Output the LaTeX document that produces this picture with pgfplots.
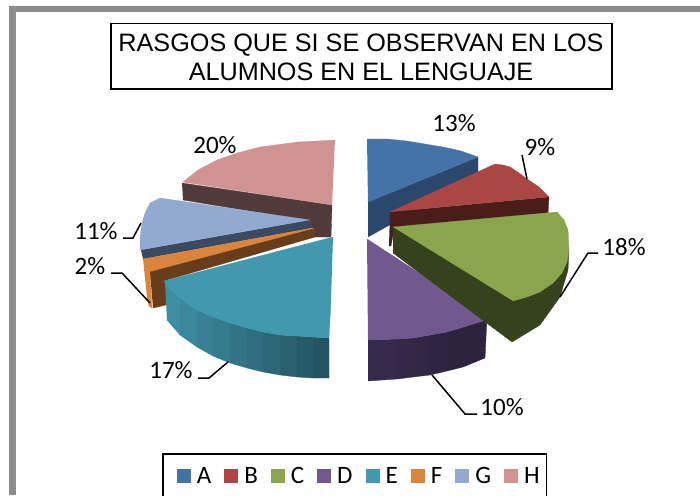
\documentclass[border=0pt]{standalone}
\usepackage{pgfplots}
\pgfplotsset{compat=1.18}
\usepackage{fontspec}
\setmainfont{Carlito}
\newfontfamily\titlefont{Liberation Sans}
\definecolor{cA}{HTML}{4572A7}
\definecolor{cB}{HTML}{AA4643}
\definecolor{cC}{HTML}{89A54E}
\definecolor{cD}{HTML}{71588F}
\definecolor{cE}{HTML}{4198AF}
\definecolor{cF}{HTML}{DB843D}
\definecolor{cG}{HTML}{93A9CF}
\definecolor{cH}{HTML}{D19392}
\definecolor{sA}{RGB}{42,72,108}
\definecolor{sB}{RGB}{74,28,26}
\definecolor{sC}{RGB}{54,66,30}
\definecolor{sDa}{RGB}{54,42,76}
\definecolor{sDb}{RGB}{45,35,62}
\definecolor{sEa}{RGB}{62,142,163}
\definecolor{sEb}{RGB}{35,84,97}
\definecolor{sF}{RGB}{104,62,26}
\definecolor{sG}{RGB}{58,74,96}
\definecolor{sH}{RGB}{82,57,58}
\pgfplotsset{
  face/.style={fill=#1, draw=#1, line width=0.3pt, forget plot},
  lead/.style={black, line width=1.5pt, forget plot},
  swatch/.style={legend image code/.code={\path[draw=none, fill=none] (0pt,-7pt) rectangle (27pt,7pt); \fill[#1, draw=none] (9pt,-7pt) rectangle (23pt,7pt);}},
}
\begin{document}
\begin{tikzpicture}
\useasboundingbox (0,0) rectangle (700pt,495pt);
\begin{axis}[
  at={(0,0)}, anchor=south west,
  scale only axis, width=700pt, height=495pt,
  xmin=0, xmax=700, ymin=0, ymax=495, y dir=reverse,
  hide axis,
  legend columns=8,
  legend style={at={(axis cs:162,453)}, anchor=north west, draw=black, line width=1.6pt,
    font=\fontsize{25}{29}\selectfont, inner xsep=5pt, inner ysep=12pt,
    nodes={text height=16pt, text depth=0pt},
    /tikz/every even column/.append style={column sep=2pt}},
]
% gray frame
\addplot[face={black!45}] coordinates {(9.5,495) (9.5,6) (700,6) (700,11.5) (15,11.5) (15,495)};

% A
\addplot[face=sA] coordinates {(368,202) (478,157) (478,176) (368,237)};
\addplot[face=cA] coordinates {(367,139) (387,139) (407,141) (425,144) (443,147) (461,151) (478,157) (368,202)};
% B
\addplot[face=sB] coordinates {(390,212) (549,197) (548,213) (394,229) (391,246) (389,246)};
\addplot[face=cB] coordinates {(390,212) (495,164) (503,165) (510,167) (519,173) (527,179) (539,187) (549,197)};
% H
\addplot[face=sH] coordinates {(182,183) (332,205) (331,237) (315,237) (310,221) (183,200)};
\addplot[face=cH] coordinates {(335,140) (298,142) (260,147) (237,153) (217,160) (198,170) (183,182) (332,205)};
% G
\addplot[face=sG] coordinates {(141,250) (310,220) (312,228) (143,259)};
\addplot[face=cG] coordinates {(310,220) (160,198) (150,203) (145,213) (142,223) (140,238) (140,250)};
% F
\addplot[face=cF] coordinates {(143,259) (313,228) (314,233) (150,272) (152,308) (149,306) (147,297)};
\addplot[face=sF] coordinates {(150,272) (313,229) (315,237) (167,280) (166,305) (153,308)};
% D
\addplot[face={sDa}] coordinates {(368,340) (397,339) (397,379) (368,381)};
\addplot[face={sDa!75!sDb}] coordinates {(397,339) (413,338) (413,377) (397,379)};
\addplot[face={sDa!50!sDb}] coordinates {(413,338) (430,335) (430,375) (413,377)};
\addplot[face={sDa!25!sDb}] coordinates {(430,335) (447,332) (447,371) (430,375)};
\addplot[face={sDb}] coordinates {(447,332) (470,325) (487,317) (485,358) (463,367) (447,371)};
\addplot[face=cD] coordinates {(367,239) (490,319) (470,325) (447,332) (430,335) (413,338) (397,339) (368,340)};
% C
\addplot[face=sC] coordinates {(393,227) (569,250) (568,270) (560,297) (540,325) (512,342) (393,253)};
\addplot[face=cC] coordinates {(393,227) (557,212) (564,220) (568,230) (569,250) (567,262) (562,273) (553,283) (540,292) (527,297) (513,301)};
% E
\addplot[face={sEa}] coordinates {(165,283) (180,298) (180,335) (167,320)};
\addplot[face={sEa!89!sEb}] coordinates {(180,298) (197,310) (197,347) (180,335)};
\addplot[face={sEa!78!sEb}] coordinates {(197,310) (213,317) (213,356) (197,347)};
\addplot[face={sEa!67!sEb}] coordinates {(213,317) (230,323) (230,363) (213,356)};
\addplot[face={sEa!56!sEb}] coordinates {(230,323) (247,328) (247,368) (230,363)};
\addplot[face={sEa!44!sEb}] coordinates {(247,328) (263,332) (263,372) (247,368)};
\addplot[face={sEa!33!sEb}] coordinates {(263,332) (280,335) (280,375) (263,372)};
\addplot[face={sEa!22!sEb}] coordinates {(280,335) (297,336) (297,377) (280,375)};
\addplot[face={sEa!11!sEb}] coordinates {(297,336) (313,337) (313,378) (297,377)};
\addplot[face={sEb}] coordinates {(313,337) (329,338) (329,378) (313,378)};
\addplot[face=cE] coordinates {(333,237) (164,281) (165,283) (180,298) (197,310) (213,317) (230,323) (247,328) (263,332) (280,335) (297,336) (313,337) (329,338) (331,300)};

% leader lines
\addplot[lead] coordinates {(522,155) (527,179)};
\addplot[lead] coordinates {(598,253) (588,253) (560,297)};
\addplot[lead] coordinates {(123,238) (133,238) (141,223)};
\addplot[lead] coordinates {(111,273) (122,273) (150,303)};
\addplot[lead] coordinates {(198,378) (209,378) (228,362)};
\addplot[lead] coordinates {(432,375) (465,414) (477,414)};

% title box
\addplot[black, line width=1.5pt, forget plot] coordinates {(111,23.5) (612,23.5) (612,89) (111,89) (111,23.5)};
\node[align=center, font=\titlefont\fontsize{25.2}{29}\selectfont] at (axis cs:361,57) {RASGOS QUE SI SE OBSERVAN EN LOS\\ALUMNOS EN EL LENGUAJE};

% data labels
\begin{scope}[every node/.style={font=\fontsize{25}{29}\selectfont}]
\node at (axis cs:454,123) {13\%};
\node at (axis cs:540,147) {9\%};
\node at (axis cs:624,247) {18\%};
\node at (axis cs:215,145) {20\%};
\node at (axis cs:96,231) {11\%};
\node at (axis cs:90,266) {2\%};
\node at (axis cs:171,370) {17\%};
\node at (axis cs:502,407) {10\%};
\end{scope}

% legend
\addlegendimage{swatch=cA}\addlegendentry{A}
\addlegendimage{swatch=cB}\addlegendentry{B}
\addlegendimage{swatch=cC}\addlegendentry{C}
\addlegendimage{swatch=cD}\addlegendentry{D}
\addlegendimage{swatch=cE}\addlegendentry{E}
\addlegendimage{swatch=cF}\addlegendentry{F}
\addlegendimage{swatch=cG}\addlegendentry{G}
\addlegendimage{swatch=cH}\addlegendentry{H}
\end{axis}
\end{tikzpicture}
\end{document}
